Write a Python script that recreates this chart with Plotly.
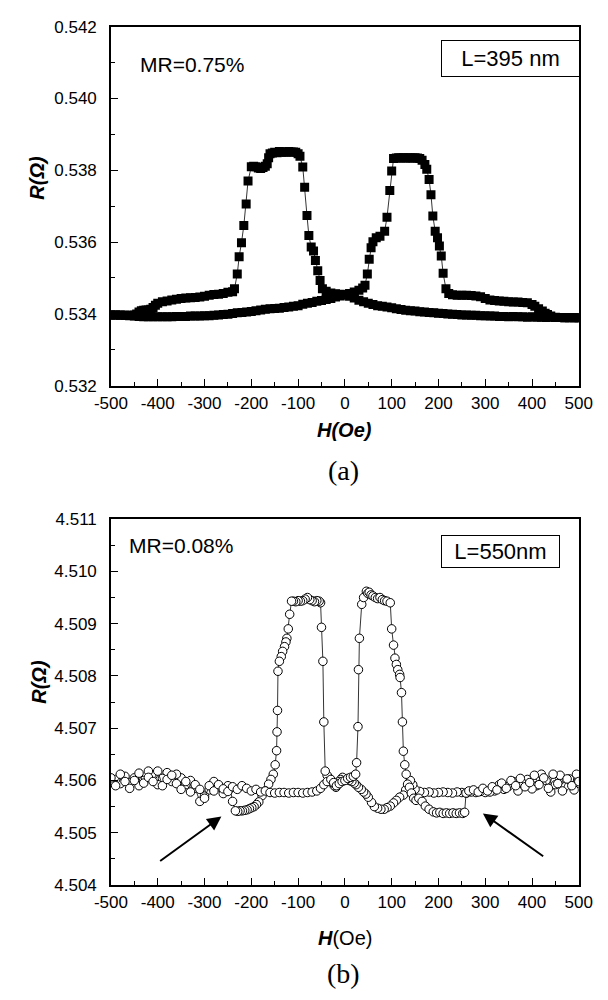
import plotly.graph_objects as go

# ---------------- Panel (a): L = 395 nm ----------------
# sweep from +500 Oe down to -500 Oe
Ha_down = [500, 490, 480, 470, 460, 450, 440, 430, 420, 410, 400, 390, 380, 370, 360, 350, 340, 330, 320, 310, 300,
           290, 280, 270, 260, 250, 240, 230, 220, 210, 200,
           190, 180, 170, 160, 150, 140, 130, 120, 110, 100,
           90, 80, 70, 60, 50,
           40, 30, 20, 10, 0, -10, -20, -30, -40, -48,
           -53, -58, -63, -67, -72, -77, -81, -86, -90, -96,
           -100, -105, -110, -115, -120, -125, -130, -135, -140, -145, -150, -155, -160, -163, -166, -170, -175, -180,
           -185, -190, -195, -200,
           -207, -211, -216, -221, -226, -230, -236,
           -240, -250, -260, -270, -280, -290, -300, -310, -320, -330, -340, -350, -360, -370, -380, -390, -400,
           -405, -410, -415, -420, -425, -430, -435, -440, -445, -450, -460, -470, -480, -490, -500]
Ra_down = [0.53389, 0.53389, 0.53390, 0.53389, 0.53390, 0.53390, 0.53391, 0.53390, 0.53391, 0.53391, 0.53392,
           0.53391, 0.53392, 0.53392, 0.53393, 0.53392, 0.53393, 0.53393, 0.53394, 0.53394, 0.53395,
           0.53395, 0.53396, 0.53396, 0.53397, 0.53397, 0.53398, 0.53399, 0.53400, 0.53401, 0.53402,
           0.53403, 0.53404, 0.53405, 0.53406, 0.53408, 0.53409, 0.53410, 0.53412, 0.53414, 0.53417,
           0.53419, 0.53421, 0.53423, 0.53426, 0.53430,
           0.53434, 0.53438, 0.53444, 0.53449, 0.53453, 0.53455, 0.53456, 0.53458, 0.53463, 0.53470,
           0.53493, 0.53520, 0.53549, 0.53575, 0.53586, 0.53618, 0.53674, 0.53753, 0.53809, 0.53839,
           0.53846, 0.53850, 0.53851, 0.53851, 0.53852, 0.53850, 0.53851, 0.53850, 0.53852, 0.53849, 0.53850,
           0.53848, 0.53846, 0.53835, 0.53818, 0.53811, 0.53808, 0.53805,
           0.53806, 0.53810, 0.53811, 0.53810,
           0.53770, 0.53706, 0.53646, 0.53598, 0.53559, 0.53511, 0.53470,
           0.53462, 0.53460, 0.53457, 0.53455, 0.53454, 0.53452, 0.53449, 0.53447, 0.53446, 0.53445, 0.53444,
           0.53443, 0.53441, 0.53439, 0.53436, 0.53434, 0.53430,
           0.53424, 0.53418, 0.53413, 0.53411, 0.53411, 0.53410, 0.53409, 0.53405, 0.53400, 0.53397, 0.53396,
           0.53396, 0.53397, 0.53397, 0.53397]

# sweep from -500 Oe up to +500 Oe
Ha_up = [-500, -490, -480, -470, -460, -450, -440, -430, -420, -410, -400, -390, -380, -370, -360, -350, -340, -330,
         -320, -310, -300, -290, -280, -270, -260, -250, -240, -230, -220, -210, -200, -190, -180, -170, -160,
         -150, -140, -130, -120, -110, -100, -90, -80, -70, -60, -50, -40, -30, -20, -10, 0, 10, 20, 30, 38,
         43, 48, 52, 56, 60, 67, 75, 85, 90, 96, 100, 104,
         110, 115, 120, 125, 130, 135, 140, 145, 150, 155, 160, 165,
         171, 175, 180, 184, 188, 193, 198, 202, 206, 210, 216,
         222, 230, 240, 250, 260, 270, 280, 290, 300, 310, 320, 330, 340, 350, 360, 370, 380, 390, 400,
         406, 414, 422, 428, 433, 440, 450, 460, 470, 480, 490, 500]
Ra_up = [0.53397, 0.53397, 0.53396, 0.53396, 0.53395, 0.53394, 0.53393, 0.53392, 0.53392, 0.53392, 0.53392,
         0.53392, 0.53392, 0.53392, 0.53393, 0.53393, 0.53393, 0.53394, 0.53394, 0.53394, 0.53395, 0.53395,
         0.53396, 0.53397, 0.53398, 0.53399, 0.53401, 0.53403, 0.53404, 0.53405, 0.53407, 0.53409, 0.53411,
         0.53413, 0.53414, 0.53415, 0.53416, 0.53418, 0.53419, 0.53421, 0.53423, 0.53427, 0.53430, 0.53432,
         0.53435, 0.53437, 0.53440, 0.53443, 0.53447, 0.53450, 0.53453, 0.53457, 0.53461, 0.53466, 0.53472,
         0.53480, 0.53511, 0.53552, 0.53584, 0.53601, 0.53612, 0.53616, 0.53630, 0.53669, 0.53744, 0.53798,
         0.53833,
         0.53834, 0.53835, 0.53834, 0.53835, 0.53834, 0.53835, 0.53834, 0.53834, 0.53835, 0.53834, 0.53833,
         0.53828,
         0.53816, 0.53803, 0.53774, 0.53732, 0.53673, 0.53630, 0.53612, 0.53589, 0.53561, 0.53513, 0.53470,
         0.53457, 0.53453, 0.53452, 0.53452, 0.53452, 0.53451, 0.53450, 0.53448, 0.53443, 0.53439, 0.53437,
         0.53436, 0.53435, 0.53434, 0.53433, 0.53433, 0.53432, 0.53431, 0.53426,
         0.53421, 0.53414, 0.53408, 0.53402, 0.53398, 0.53394, 0.53391, 0.53390, 0.53389, 0.53389, 0.53389,
         0.53389]

# ---------------- Panel (b): L = 550 nm ----------------
Hb_down = [500, 490, 480, 470, 460, 450, 440, 430, 420, 410, 400, 390, 380, 370, 360, 350, 340, 330,
           320, 310, 300, 290, 280, 270, 260, 250, 240, 230, 220, 210, 200, 190, 180, 170, 160, 150,
           145, 140, 135, 130, 125, 117, 110, 104, 97, 90, 84, 77, 70, 63, 57, 50, 45, 40, 35, 29, 24, 20,
           15, 9, 4, 0, -5, -9, -12, -16, -19, -23, -26, -29, -32, -35, -38,
           -42, -45, -47, -50, -52,
           -55, -60, -65, -70, -75, -80, -85, -90, -95, -100, -105, -110, -114,
           -118, -121, -124, -126, -129, -133, -136, -140, -143, -144, -145, -146, -149, -153,
           -158, -163, -170, -177, -184, -189, -194, -199, -204, -209, -214, -219, -224, -229, -234,
           -240, -245, -250, -260, -270, -280, -290, -300, -310, -320, -330, -340, -350, -360, -370, -380,
           -390, -400, -410, -420, -430, -440, -450, -460, -470, -480, -490, -500]
Rb_down = [4.50595, 4.50582, 4.50603, 4.50588, 4.50610, 4.50592, 4.50578, 4.50600, 4.50612, 4.50590, 4.50584,
           4.50602, 4.50595, 4.50580, 4.50598, 4.50589, 4.50583, 4.50592,
           4.50580, 4.50578, 4.50577, 4.50579, 4.50577, 4.50578, 4.50576, 4.50577, 4.50578, 4.50576, 4.50577,
           4.50578, 4.50577, 4.50576, 4.50578, 4.50577, 4.50579, 4.50583,
           4.50592, 4.50600, 4.50590, 4.50582, 4.50572, 4.50568, 4.50562, 4.50557, 4.50551, 4.50548, 4.50545,
           4.50545, 4.50547, 4.50550, 4.50558, 4.50568, 4.50574, 4.50578, 4.50583, 4.50587, 4.50592, 4.50595,
           4.50598, 4.50600, 4.50602, 4.50603, 4.50606, 4.50602, 4.50598, 4.50592, 4.50587, 4.50590, 4.50595,
           4.50600, 4.50603, 4.50606, 4.50610,
           4.50618, 4.50712, 4.50828, 4.50893, 4.50940,
           4.50943, 4.50944, 4.50942, 4.50944, 4.50946, 4.50950, 4.50947, 4.50944, 4.50943, 4.50944, 4.50942,
           4.50943, 4.50943,
           4.50918, 4.50890, 4.50872, 4.50865, 4.50856, 4.50847, 4.50837, 4.50828, 4.50809, 4.50734, 4.50693,
           4.50657, 4.50630, 4.50612,
           4.50602, 4.50593, 4.50580, 4.50571, 4.50559, 4.50554, 4.50550, 4.50548, 4.50546, 4.50544, 4.50543,
           4.50542, 4.50542, 4.50541, 4.50542,
           4.50560, 4.50585, 4.50590, 4.50575, 4.50588, 4.50598, 4.50582, 4.50570, 4.50560, 4.50585, 4.50600,
           4.50592, 4.50605, 4.50612, 4.50598, 4.50615, 4.50604, 4.50592, 4.50610, 4.50618, 4.50600, 4.50590,
           4.50605, 4.50596, 4.50608, 4.50594, 4.50602, 4.50597]

Hb_up = [-500, -490, -480, -470, -460, -450, -440, -430, -420, -410, -400, -390, -380, -370, -360, -350, -340,
         -330, -320, -310, -300, -290, -280, -270, -260, -250, -240, -230, -220, -210, -200, -190, -180, -170,
         -160, -150, -140, -130, -120, -110, -100, -90, -80, -70, -60, -52, -45, -38, -30, -24, -18, -12, -6,
         0, 6, 12, 18, 23,
         25, 28, 29, 31, 36, 40, 46, 49, 52, 56, 60, 65, 70, 75, 80, 85, 90, 97,
         100, 104, 107, 110, 113, 117, 118, 121, 123, 125, 128, 131, 134, 138, 142, 147, 152, 158, 165, 172,
         180, 189, 196, 203, 210, 217, 224, 231, 238, 245, 252, 256,
         259, 265, 275, 285, 295, 305, 315, 325, 335, 345, 355, 365, 375, 385, 395, 405, 415, 425, 435, 445,
         455, 465, 475, 485, 495, 500]
Rb_up = [4.50605, 4.50590, 4.50612, 4.50598, 4.50585, 4.50600, 4.50614, 4.50595, 4.50606, 4.50598, 4.50618,
         4.50590, 4.50602, 4.50610, 4.50594, 4.50583, 4.50598, 4.50578, 4.50592, 4.50583, 4.50566, 4.50590,
         4.50580, 4.50592, 4.50584, 4.50579, 4.50588, 4.50583, 4.50590, 4.50585, 4.50580, 4.50583, 4.50578,
         4.50580, 4.50577, 4.50576, 4.50577, 4.50577, 4.50576, 4.50577, 4.50577, 4.50576, 4.50577, 4.50578,
         4.50580, 4.50585, 4.50592, 4.50598, 4.50602, 4.50596, 4.50590, 4.50594, 4.50598,
         4.50600, 4.50604, 4.50606, 4.50608, 4.50612,
         4.50634, 4.50703, 4.50812, 4.50872, 4.50937, 4.50950, 4.50962, 4.50958, 4.50960, 4.50955, 4.50953,
         4.50950, 4.50948, 4.50950, 4.50946, 4.50944, 4.50943, 4.50940,
         4.50890, 4.50859, 4.50834, 4.50822, 4.50812, 4.50803, 4.50797, 4.50768, 4.50712, 4.50656, 4.50630,
         4.50612, 4.50593, 4.50587, 4.50576, 4.50566, 4.50562, 4.50566, 4.50560, 4.50551,
         4.50545, 4.50540, 4.50538, 4.50539, 4.50537, 4.50538, 4.50537, 4.50538, 4.50537, 4.50538, 4.50537,
         4.50539,
         4.50576, 4.50580, 4.50582, 4.50578, 4.50585, 4.50580, 4.50588, 4.50582, 4.50595, 4.50585, 4.50600,
         4.50590, 4.50604, 4.50588, 4.50596, 4.50610, 4.50592, 4.50605, 4.50585, 4.50612, 4.50594, 4.50580,
         4.50603, 4.50590, 4.50612, 4.50598]

# arrows in panel (b): (tail H, tail R, head H, head R)
arrow_left = (-398, 4.50444, -264, 4.50531)
arrow_right = (427, 4.50453, 295, 4.50537)

x_ticks = [-500, -400, -300, -200, -100, 0, 100, 200, 300, 400, 500]
x_labels = [str(v) for v in x_ticks]

SANS = "Liberation Sans, Arial, sans-serif"
SERIF = "Liberation Serif, Times New Roman, serif"

fig = go.Figure()

line_style = dict(color="black", width=0.8)
sq = dict(symbol="square", size=9, color="black", line=dict(width=0))
circ = dict(symbol="circle", size=8.5, color="white", line=dict(color="black", width=1))

fig.add_trace(go.Scatter(x=Ha_down, y=Ra_down, mode="lines+markers", line=line_style, marker=sq,
                         xaxis="x", yaxis="y", showlegend=False))
fig.add_trace(go.Scatter(x=Ha_up, y=Ra_up, mode="lines+markers", line=line_style, marker=sq,
                         xaxis="x", yaxis="y", showlegend=False))
fig.add_trace(go.Scatter(x=Hb_down, y=Rb_down, mode="lines+markers", line=line_style, marker=circ,
                         xaxis="x2", yaxis="y2", showlegend=False))
fig.add_trace(go.Scatter(x=Hb_up, y=Rb_up, mode="lines+markers", line=line_style, marker=circ,
                         xaxis="x2", yaxis="y2", showlegend=False))

W, H = 608, 1000
xdom = [99 / W, 592 / W]


def xax(anchor):
    return dict(domain=xdom, range=[-500, 500], tickvals=x_ticks, ticktext=x_labels,
                ticks="inside", ticklen=7, tickwidth=1.3, tickcolor="black",
                minor=dict(dtick=50, tick0=0, ticks="inside", ticklen=4, tickwidth=1.2, tickcolor="black",
                           showgrid=False),
                showline=True, linewidth=1.5, linecolor="black", mirror=True,
                showgrid=False, zeroline=False, anchor=anchor, ticklabelstandoff=1,
                tickfont=dict(family=SANS, size=17, color="black"))


def yax(anchor, dom, rng, dt):
    return dict(domain=dom, range=rng, dtick=dt, tick0=rng[0], tickformat=".3f",
                ticks="inside", ticklen=7, tickwidth=1.3, tickcolor="black",
                minor=dict(dtick=dt / 2, tick0=rng[0], ticks="inside", ticklen=4, tickwidth=1.2,
                           tickcolor="black", showgrid=False),
                showline=True, linewidth=1.5, linecolor="black", mirror=True,
                showgrid=False, zeroline=False, anchor=anchor, ticklabelstandoff=9,
                tickfont=dict(family=SANS, size=17, color="black"))


annotations = [
    dict(text="<b><i>R(Ω)</i></b>", x=21 / W, y=1 - 172 / H, xref="paper", yref="paper", textangle=-90,
         showarrow=False, font=dict(family=SANS, size=20, color="black"), xanchor="center", yanchor="middle"),
    dict(text="<b><i>H(Oe)</i></b>", x=345.5 / W, y=1 - 429 / H, xref="paper", yref="paper",
         showarrow=False, font=dict(family=SANS, size=20, color="black"), xanchor="center", yanchor="middle"),
    dict(text="(a)", x=344 / W, y=1 - 470 / H, xref="paper", yref="paper",
         showarrow=False, font=dict(family=SERIF, size=28, color="black"), xanchor="center", yanchor="middle"),
    dict(text="MR=0.75%", x=128 / W, y=1 - 57 / H, xref="paper", yref="paper",
         showarrow=False, font=dict(family=SANS, size=21, color="black"), xanchor="left", yanchor="middle"),
    dict(text="L=395 nm", x=519.5 / W, y=1 - 50.5 / H, xref="paper", yref="paper",
         showarrow=False, font=dict(family=SANS, size=22, color="black"), xanchor="center", yanchor="middle",
         bordercolor="black", borderwidth=1, borderpad=2, width=133, height=31, bgcolor="white"),
    dict(text="<b><i>R(Ω)</i></b>", x=23 / W, y=1 - 686 / H, xref="paper", yref="paper", textangle=-90,
         showarrow=False, font=dict(family=SANS, size=20, color="black"), xanchor="center", yanchor="middle"),
    dict(text="<b><i>H</i></b>(Oe)", x=345.5 / W, y=1 - 947 / H, xref="paper", yref="paper",
         showarrow=False, font=dict(family=SANS, size=20, color="black"), xanchor="center", yanchor="middle"),
    dict(text="(b)", x=344 / W, y=1 - 983 / H, xref="paper", yref="paper",
         showarrow=False, font=dict(family=SERIF, size=28, color="black"), xanchor="center", yanchor="middle"),
    dict(text="MR=0.08%", x=116 / W, y=1 - 547 / H, xref="paper", yref="paper",
         showarrow=False, font=dict(family=SANS, size=21, color="black"), xanchor="left", yanchor="middle"),
    dict(text="L=550nm", x=510 / W, y=1 - 553 / H, xref="paper", yref="paper",
         showarrow=False, font=dict(family=SANS, size=22, color="black"), xanchor="center", yanchor="middle",
         bordercolor="black", borderwidth=1, borderpad=2, width=113, height=27, bgcolor="white"),
]
for (tx, ty, hx, hy) in (arrow_left, arrow_right):
    annotations.append(dict(x=hx, y=hy, ax=tx, ay=ty, xref="x2", yref="y2", axref="x2", ayref="y2",
                            text="", showarrow=True, arrowhead=2, arrowsize=1.4, arrowwidth=2,
                            arrowcolor="black"))

fig.update_layout(
    width=W, height=H, margin=dict(l=0, r=0, t=0, b=0),
    paper_bgcolor="white", plot_bgcolor="white",
    xaxis=xax("y"),
    yaxis=yax("x", [1 - 384 / H, 1 - 18 / H], [0.532, 0.542], 0.002),
    xaxis2=xax("y2"),
    yaxis2=yax("x2", [1 - 893 / H, 1 - 520 / H], [4.504, 4.511], 0.001),
    annotations=annotations,
    showlegend=False,
)

fig.write_html("out.html", config={"displayModeBar": False},
               post_script="document.body.style.margin='0';")
